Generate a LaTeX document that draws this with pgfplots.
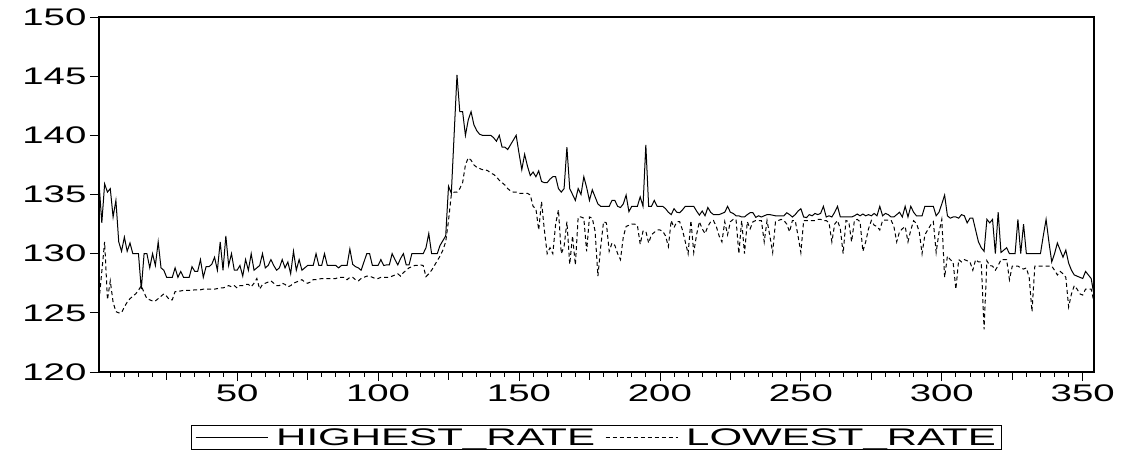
\documentclass[border=0pt]{standalone}
\usepackage{fontspec}
\setmainfont{Liberation Sans}
\usepackage{graphicx}
\usepackage{pgfplots}
\pgfplotsset{compat=1.18}
\newcommand{\hs}[1]{\scalebox{1.6}[1]{#1}}
\newcommand{\hl}[1]{\hspace{6pt}\scalebox{1.75}[1]{#1}}

\pgfplotstableread{
x y
1 136.0
2 132.6
3 135.9
4 135.2
5 135.5
6 133.1
7 134.5
8 131.0
9 130.2
10 131.4
11 130.2
12 130.9
13 130.0
14 130.0
15 130.0
16 127.0
17 130.0
18 130.0
19 128.8
20 130.0
21 129.0
22 131.0
23 128.8
24 128.6
25 128.0
26 128.0
27 128.0
28 128.8
29 128.0
30 128.5
31 128.0
32 128.0
33 128.0
34 128.9
35 128.5
36 128.5
37 129.5
38 128.0
39 128.9
40 128.9
41 129.1
42 129.7
43 128.6
44 131.0
45 128.6
46 131.5
47 129.0
48 130.0
49 128.6
50 128.6
51 129.0
52 128.1
53 129.5
54 128.6
55 130.0
56 128.6
57 128.8
58 129.0
59 130.0
60 128.8
61 129.0
62 129.5
63 129.0
64 128.6
65 128.8
66 129.5
67 128.8
68 129.3
69 128.3
70 130.2
71 128.6
72 129.5
73 128.6
74 128.8
75 129.0
76 129.0
77 129.0
78 130.0
79 129.0
80 129.0
81 130.0
82 129.0
83 129.0
84 129.0
85 129.0
86 128.8
87 129.0
88 129.0
89 129.0
90 130.4
91 129.1
92 128.9
93 128.8
94 128.6
95 129.3
96 130.0
97 130.0
98 129.0
99 129.0
100 129.0
101 129.5
102 129.0
103 129.05
104 129.05
105 130.0
106 129.5
107 129.05
108 129.6
109 130.0
110 129.05
111 129.05
112 130.0
113 130.0
114 130.0
115 130.0
116 130.0
117 130.5
118 131.7
119 130.0
120 130.0
121 130.0
122 130.7
123 131.1
124 131.5
125 135.7
126 135.1
128 145.1
129 142.0
130 142.0
131 140.0
132 141.3
133 142.0
134 140.9
135 140.4
136 140.1
137 140.0
138 140.0
139 140.0
140 140.0
141 139.8
142 139.5
143 140.0
144 139.0
145 139.0
146 138.8
147 139.2
148 139.6
149 140.0
150 138.5
151 137.1
152 138.4
153 137.4
154 136.6
155 136.9
156 136.5
157 137.0
158 136.1
159 136.0
160 136.0
161 136.3
162 136.5
163 136.5
164 135.5
165 135.2
166 135.5
167 139.0
168 135.5
169 135.0
170 134.5
171 135.5
172 135.0
173 136.5
174 135.6
175 134.5
176 135.4
177 134.8
178 134.2
179 134.0
180 134.0
181 134.0
182 134.0
183 134.5
184 134.5
185 134.0
186 133.9
187 134.2
188 134.95
189 133.55
190 134.0
191 134.0
192 134.0
193 134.8
194 134.0
195 139.2
196 134.0
197 134.0
198 134.5
199 134.0
200 134.0
201 134.0
202 133.8
203 133.5
204 133.3
205 133.8
206 133.5
207 133.46
208 133.7
209 134.0
210 134.0
211 134.0
212 134.0
213 133.6
214 133.26
215 133.6
216 133.2
217 133.9
218 133.5
219 133.3
220 133.3
221 133.3
222 133.4
223 133.5
224 134.0
225 133.5
226 133.4
227 133.2
228 133.2
229 133.1
230 133.1
231 133.3
232 133.46
233 133.46
234 133.07
235 133.2
236 133.1
237 133.2
238 133.3
239 133.3
240 133.25
241 133.2
242 133.2
243 133.2
244 133.2
245 133.46
246 133.3
247 133.1
248 133.3
249 133.6
250 133.8
251 133.1
252 133.05
253 133.3
254 133.2
255 133.4
256 133.3
257 133.4
258 134.0
259 133.1
260 133.2
261 133.1
262 133.5
263 134.0
264 133.1
265 133.1
266 133.1
267 133.1
268 133.1
269 133.2
270 133.35
271 133.2
272 133.35
273 133.2
274 133.3
275 133.2
276 133.4
277 133.2
278 134.0
279 133.2
280 133.4
281 133.3
282 133.1
283 133.1
284 133.3
285 133.5
286 133.1
287 134.0
288 133.1
289 134.0
290 133.5
291 133.2
292 133.2
293 133.2
294 134.0
295 134.0
296 134.0
297 134.0
298 133.2
299 133.5
300 134.2
301 134.95
302 133.2
303 133.0
304 133.1
305 133.1
306 133.0
307 133.3
308 133.2
309 132.6
310 133.0
311 133.0
312 132.0
313 131.0
314 130.5
315 130.2
316 132.9
317 132.6
318 132.9
319 130.0
320 133.5
321 130.1
322 130.3
323 130.5
324 130.0
325 130.0
326 130.0
327 132.9
328 130.0
329 132.5
330 130.0
331 130.0
332 130.0
333 130.0
334 130.0
335 130.0
336 131.5
337 132.9
338 131.0
339 129.3
340 130.0
341 130.9
342 130.3
343 129.7
344 130.3
345 129.2
346 128.6
347 128.2
348 128.1
349 128.0
350 127.9
351 128.5
352 128.2
353 127.9
354 126.5
}\highrate

\pgfplotstableread{
x y
1 126.0
2 128.5
3 131.0
4 126.1
5 127.7
6 125.9
7 125.1
8 125.0
9 125.0
10 125.5
11 125.9
12 126.2
13 126.4
14 126.6
15 126.9
16 127.3
17 126.7
18 126.2
19 126.1
20 126.0
21 126.0
22 126.2
23 126.4
24 126.6
25 126.4
26 126.1
27 126.1
28 126.8
29 126.8
30 126.85
31 126.9
32 126.9
33 126.9
34 126.9
35 126.95
36 126.95
37 126.95
38 127.0
39 127.0
40 127.0
41 127.0
42 127.0
43 127.05
44 127.1
45 127.1
46 127.2
47 127.3
48 127.2
49 127.3
50 127.1
51 127.3
52 127.3
53 127.4
54 127.4
55 127.2
56 127.5
57 127.9
58 127.0
59 127.4
60 127.5
61 127.6
62 127.7
63 127.5
64 127.3
65 127.3
66 127.5
67 127.4
68 127.2
69 127.3
70 127.5
71 127.6
72 127.7
73 127.8
74 127.6
75 127.5
76 127.6
77 127.8
78 127.8
79 127.85
80 127.9
81 127.9
82 127.9
83 127.9
84 127.9
85 127.9
86 128.0
87 128.0
88 128.0
89 127.8
90 128.0
91 128.0
92 127.8
93 127.7
94 127.9
95 128.0
96 128.1
97 128.1
98 128.0
99 127.9
100 127.9
101 128.0
102 128.0
103 128.0
104 128.0
105 128.1
106 128.2
107 128.3
108 128.1
109 128.4
110 128.6
111 128.8
112 128.9
113 129.0
114 129.0
115 129.05
116 129.0
117 128.06
118 128.3
119 128.6
120 129.0
121 129.4
122 129.8
123 130.3
124 131.0
125 132.8
126 135.0
127 135.2
128 135.2
129 135.5
130 136.0
131 137.5
132 138.1
133 137.9
134 137.5
135 137.3
136 137.2
137 137.1
138 137.1
139 137.0
140 136.8
141 136.7
142 136.5
143 136.2
144 136.0
145 135.8
146 135.5
147 135.3
148 135.2
149 135.2
150 135.1
151 135.1
152 135.1
153 135.1
154 134.96
155 134.0
156 133.8
157 132.0
158 134.4
159 132.0
160 130.0
161 130.5
162 130.0
163 132.5
164 133.7
165 130.0
166 130.6
167 132.7
168 129.1
169 131.5
170 129.05
171 133.1
172 133.1
173 133.0
174 130.2
175 133.1
176 133.0
177 131.9
178 128.1
179 130.6
180 132.7
181 132.6
182 130.2
183 130.9
184 130.7
185 130.0
186 129.5
187 131.4
188 132.3
189 132.4
190 132.5
191 132.5
192 132.4
193 130.8
194 131.9
195 131.9
196 130.9
197 131.6
198 131.8
199 132.0
200 132.0
201 131.9
202 131.5
203 130.6
204 132.8
205 132.2
206 132.7
207 132.7
208 132.0
209 131.0
210 130.0
211 132.8
212 130.1
213 131.6
214 132.7
215 132.1
216 131.7
217 132.3
218 132.7
219 132.8
220 132.3
221 131.5
222 131.0
223 132.7
224 131.6
225 132.7
226 132.9
227 132.9
228 130.0
229 132.8
230 130.0
231 132.7
232 132.1
233 132.7
234 132.8
235 132.8
236 132.8
237 131.0
238 132.8
239 131.5
240 130.1
241 132.7
242 132.8
243 132.9
244 132.8
245 132.5
246 131.85
247 132.8
248 132.8
249 131.5
250 130.1
251 132.8
252 132.8
253 132.8
254 132.8
255 132.8
256 132.9
257 132.9
258 132.8
259 132.8
260 132.6
261 131.0
262 132.5
263 132.8
264 132.1
265 130.0
266 132.8
267 132.7
268 131.0
269 132.8
270 132.9
271 132.7
272 130.2
273 131.0
274 132.1
275 132.8
276 132.4
277 132.3
278 132.0
279 132.8
280 132.84
281 132.84
282 132.84
283 132.3
284 131.0
285 131.85
286 132.1
287 132.3
288 131.0
289 132.0
290 132.78
291 132.56
292 131.85
293 130.0
294 131.6
295 132.0
296 132.4
297 132.7
298 130.1
299 131.8
300 132.9
301 128.0
302 129.8
303 129.5
304 129.3
305 127.0
306 129.5
307 129.3
308 129.5
309 129.4
310 129.3
311 128.6
312 129.5
313 129.3
314 129.3
315 123.6
316 129.4
317 129.0
318 128.95
319 128.6
320 129.0
321 129.5
322 129.5
323 129.5
324 127.8
325 128.95
326 128.95
327 128.95
328 128.8
329 128.7
330 128.8
331 128.0
332 125.1
333 128.95
334 128.95
335 128.95
336 128.95
337 128.95
338 128.95
339 128.95
340 128.6
341 128.2
342 128.5
343 128.3
344 128.0
345 125.5
346 126.6
347 127.3
348 127.0
349 126.6
350 126.5
351 127.0
352 127.0
353 127.0
354 125.9
}\lowrate

\begin{document}
\begin{tikzpicture}[x=1pt,y=1pt]
\begin{axis}[
  at={(0pt,0pt)}, anchor=south west,
  scale only axis, width=995pt, height=355pt,
  xmin=1, xmax=354, ymin=120, ymax=150,
  xtick={50,100,...,350},
  minor xtick={5,10,...,350},
  extra x ticks={25,75,...,325},
  extra x tick labels={},
  extra x tick style={major tick length=8pt},
  ytick={120,125,...,150},
  tick pos=left,
  tick align=outside,
  major tick length=9pt, minor tick length=5pt,
  axis line style={line width=1.4pt},
  every tick/.style={black, line width=0.8pt},
  tick label style={font=\fontsize{24}{28}\selectfont, /pgf/number format/assume math mode=true},
  xticklabel={\hs{\pgfmathprintnumber{\tick}}},
  yticklabel={\hs{\pgfmathprintnumber{\tick}}},
  legend columns=-1,
  legend style={at={(0.5,-0.185)}, anchor=center, draw=black, line width=0.8pt,
    font=\fontsize{24}{28}\selectfont, inner xsep=4pt, inner ysep=1pt,
    /tikz/every even column/.append style={column sep=8pt}},
  legend image code/.code={\draw[#1] (0pt,0pt) -- (72pt,0pt);},
]
\addplot[black, line width=1pt, mark=none] table[x=x,y=y] {\highrate};
\addlegendentry{\hl{HIGHEST\_RATE}}
\addplot[black, line width=1pt, mark=none, dash pattern=on 4pt off 3pt] table[x=x,y=y] {\lowrate};
\addlegendentry{\hl{LOWEST\_RATE}}
\end{axis}
\pgfresetboundingbox
\path[use as bounding box] (-99pt,-80pt) rectangle (1026pt,372pt);
\end{tikzpicture}
\end{document}
